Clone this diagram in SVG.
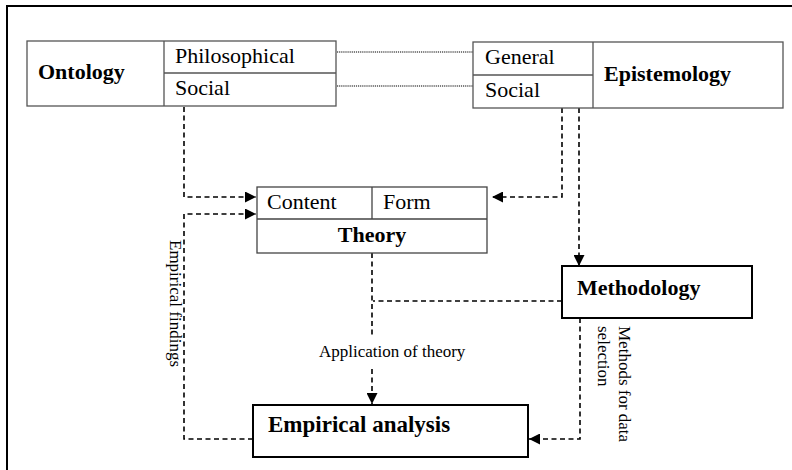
<svg xmlns="http://www.w3.org/2000/svg" width="792" height="470" viewBox="0 0 792 470">
<defs>
<marker id="arr" viewBox="0 0 10 10" refX="10" refY="5" markerWidth="11" markerHeight="11" markerUnits="userSpaceOnUse" orient="auto">
<path d="M0,0 L10,5 L0,10 Z" fill="#000"/>
</marker>
<style>
text{font-family:"Liberation Serif","Times New Roman",serif;fill:#000}
.b{font-weight:bold;font-size:22px}
.r{font-size:22px}
.s{font-size:17px}
.box{fill:#fff;stroke:#555;stroke-width:1.3}
.tbox{fill:#fff;stroke:#000;stroke-width:2}
.div{stroke:#555;stroke-width:1.3;fill:none}
.dash{fill:none;stroke:#000;stroke-width:1.6;stroke-dasharray:5,3.5}
.dot{fill:none;stroke:#000;stroke-width:1.2;stroke-dasharray:1.2,0.9}
</style>
</defs>
<rect width="792" height="470" fill="#fff"/>
<rect x="7" y="6" width="800" height="480" fill="none" stroke="#000" stroke-width="2"/>
<g id="connectors">
<path class="dot" d="M337,52 H473"/>
<path class="dot" d="M337,86 H473"/>
<path class="dash" d="M184,107 V197 H256" marker-end="url(#arr)"/>
<path class="dash" d="M253,439 H184 V214 H256" marker-end="url(#arr)"/>
<path class="dash" d="M562,108 V197 H492" marker-end="url(#arr)"/>
<path class="dash" d="M579,108 V266" marker-end="url(#arr)"/>
<path class="dash" d="M562,301 H373"/>
<path class="dash" d="M372,253 V336"/>
<path class="dash" d="M372,369 V404" marker-end="url(#arr)"/>
<path class="dash" d="M580,318 V439 H529" marker-end="url(#arr)"/>
<text class="s" x="319" y="357">Application of theory</text>
<text class="s" transform="translate(170,240) rotate(90)">Empirical findings</text>
<text class="s" transform="translate(619,326) rotate(90)">Methods for data</text>
<text class="s" transform="translate(598,326) rotate(90)">selection</text>
</g>
<g id="ontology">
<rect class="box" x="27" y="41" width="309" height="65"/>
<path class="div" d="M164,41 V106 M164,73 H336"/>
<text class="b" x="38" y="79">Ontology</text>
<text class="r" x="175" y="63">Philosophical</text>
<text class="r" x="175" y="95">Social</text>
</g>
<g id="epistemology">
<rect class="box" x="473" y="42" width="310" height="66"/>
<path class="div" d="M593,42 V108 M473,75 H593"/>
<text class="r" x="485" y="64">General</text>
<text class="r" x="485" y="97">Social</text>
<text class="b" x="604" y="81">Epistemology</text>
</g>
<g id="theory">
<rect class="box" x="257" y="187" width="230" height="66" style="stroke:#444"/>
<path class="div" d="M257,219 H487 M372,187 V219" style="stroke:#444"/>
<text class="r" x="267" y="209">Content</text>
<text class="r" x="383" y="209">Form</text>
<text class="b" x="372" y="242" text-anchor="middle">Theory</text>
</g>
<g id="methodology">
<rect class="tbox" x="562" y="266" width="190" height="52"/>
<text class="b" x="577" y="295">Methodology</text>
</g>
<g id="empirical-analysis">
<rect class="tbox" x="253" y="405" width="275" height="52"/>
<text class="b" x="268" y="432" style="font-size:23px">Empirical analysis</text>
</g>
</svg>
